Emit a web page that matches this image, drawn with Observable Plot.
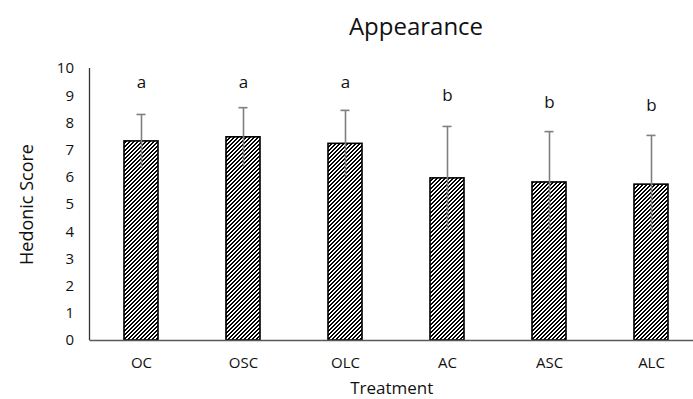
<!DOCTYPE html>
<html>
<head>
<meta charset="utf-8">
<script src="https://cdn.jsdelivr.net/npm/d3@7"></script>
<script src="https://cdn.jsdelivr.net/npm/@observablehq/plot@0.6"></script>
<style>
  body { margin: 0; background: #fff; }
  #title { height: 50px; width: 693px; box-sizing: border-box; padding-left: 139px; text-align: center;
           font-family: "Open Sans", sans-serif; font-size: 24px; line-height: 52px; color: #111; }
</style>
</head>
<body>
<div id="title">Appearance</div>
<div id="chart"></div>
<script>
const treatments = ["OC", "OSC", "OLC", "AC", "ASC", "ALC"];
const means = [7.32, 7.47, 7.23, 5.96, 5.81, 5.73];
const sds = [0.99, 1.09, 1.23, 1.91, 1.87, 1.81];
const letters = ["a", "a", "a", "b", "b", "b"];
const letterY = [9.48, 9.48, 9.5, 9.0, 8.73, 8.64];
const yTicks = [0, 1, 2, 3, 4, 5, 6, 7, 8, 9, 10];

const data = treatments.map((t, i) => ({
  t, m: means[i], lo: means[i] - sds[i], hi: means[i] + sds[i], letter: letters[i], ly: letterY[i]
}));

const plot = Plot.plot({
  width: 693,
  height: 349,
  marginLeft: 89.5,
  marginRight: -9,
  marginTop: 18,
  marginBottom: 59,
  style: { fontFamily: "'Open Sans', sans-serif", fontSize: "15px", color: "#111", background: "#fff" },
  x: { domain: treatments, paddingInner: 0.67, paddingOuter: 0.335, align: 0.5, label: null, tickSize: 0, tickPadding: 17 },
  y: { domain: [0, 10], ticks: yTicks, tickFormat: d => String(d), label: null, tickSize: 0, tickPadding: 16 },
  marks: [
    Plot.barY(data, { x: "t", y: "m", fill: "url(#hatch)", stroke: "#000", strokeWidth: 1.6 }),
    Plot.ruleX(data, { x: "t", y1: "lo", y2: "hi", stroke: "#7f7f7f", strokeWidth: 1.6 }),
    Plot.tickY(data, { x: "t", y: "hi", stroke: "#7f7f7f", strokeWidth: 1.6, insetLeft: 12.5, insetRight: 12.5 }),
    Plot.text(data, { x: "t", y: "ly", text: "letter", fontSize: 17, fill: "#111", lineAnchor: "middle" }),
    Plot.ruleY([0], { stroke: "#595959", strokeWidth: 1.3 }),
    Plot.text(["Treatment"], { frameAnchor: "bottom", dy: 53, text: d => d, fontSize: 17, fill: "#111", dx: -4.5 }),
    Plot.text(["Hedonic Score"], { frameAnchor: "left", textAnchor: "middle", dx: -63, rotate: -90, text: d => d, fontSize: 18, fill: "#111" })
  ]
});

// hatch pattern: crisp 2px black / 2px white diagonal stripes ("/")
const ns = "http://www.w3.org/2000/svg";
const defs = document.createElementNS(ns, "defs");
let rects = `<rect x="0" y="0" width="4" height="4" fill="#fff"/>`;
for (let px = 0; px < 4; px++) for (let py = 0; py < 4; py++) {
  if ((px + py) % 4 < 2) rects += `<rect x="${px}" y="${py}" width="1" height="1" fill="#000"/>`;
}
defs.innerHTML = `<pattern id="hatch" patternUnits="userSpaceOnUse" x="0" y="0" width="4" height="4" shape-rendering="crispEdges">${rects}</pattern>`;
plot.insertBefore(defs, plot.firstChild);

// y axis line
const yLine = document.createElementNS(ns, "line");
yLine.setAttribute("x1", 89.5); yLine.setAttribute("x2", 89.5);
yLine.setAttribute("y1", 18); yLine.setAttribute("y2", 290);
yLine.setAttribute("stroke", "#333"); yLine.setAttribute("stroke-width", 1.3);
plot.appendChild(yLine);

document.getElementById("chart").appendChild(plot);
</script>
</body>
</html>
